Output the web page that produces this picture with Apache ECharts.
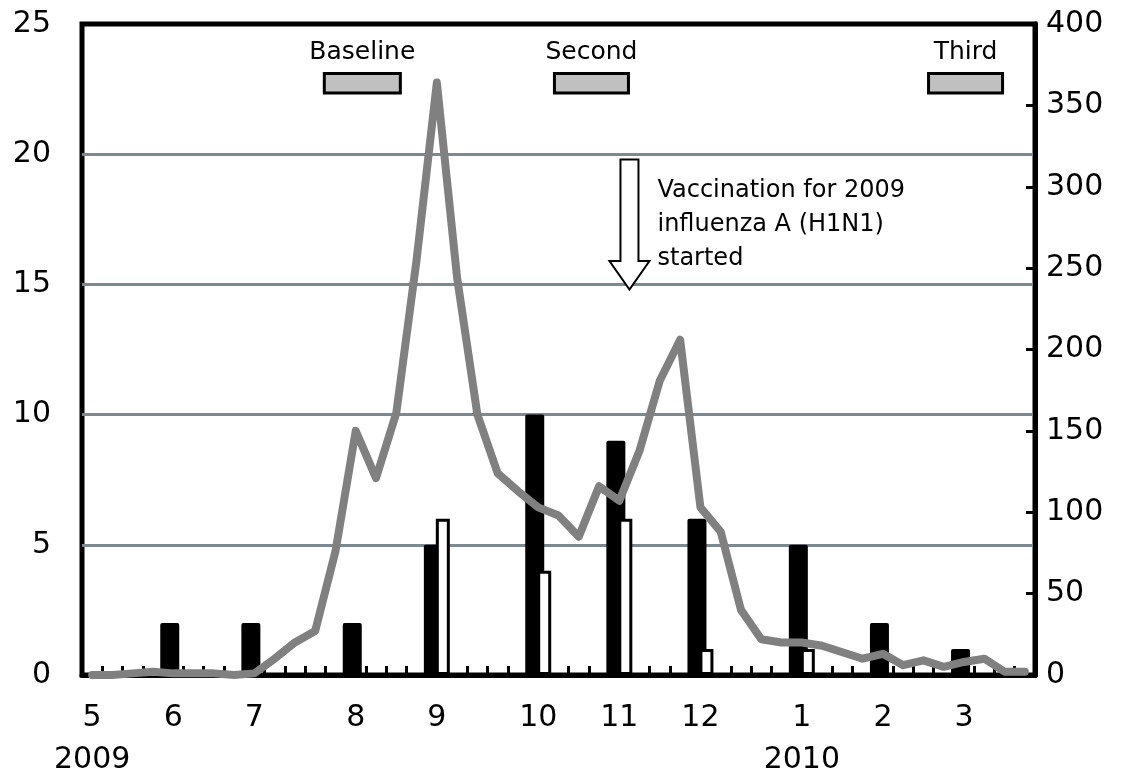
<!DOCTYPE html>
<html>
<head>
<meta charset="utf-8">
<script src="https://cdn.jsdelivr.net/npm/echarts@6/dist/echarts.min.js"></script>
<style>
html, body { margin: 0; padding: 0; background: #fff; }
#chart { width: 1133px; height: 781px; }
</style>
</head>
<body>
<div id="chart"></div>
<script>
// one category per week, May 2009 - Mar 2010
const weeks = Array.from({ length: 47 }, (_, i) => 'W' + (i + 1));

// month tick labels and the week each one sits on
const monthNames = ['5\n2009', '6', '7', '8', '9', '10', '11', '12', '1\n2010', '2', '3'];
const monthWeek = [0, 4, 8, 13, 17, 22, 26, 30, 35, 39, 43];

// monthly bars (left axis), placed on the month's week
const barWeek = [4, 8, 13, 17, 22, 26, 30, 35, 39, 43];
const blackBars = [2, 2, 2, 5, 10, 9, 6, 5, 2, 1];
const whiteBars = [0, 0, 0, 6, 4, 6, 1, 1, 0, 0];

// weekly cases (right axis)
const weeklyCases = [
  0, 0, 1, 2, 1, 1, 1, 0, 1, 10,
  20, 27, 76, 150, 121, 161, 255, 364, 244, 160,
  124, 113, 103, 98, 85, 116, 107, 138, 181, 206,
  103, 88, 40, 22, 20, 20, 18, 14, 10, 13,
  6, 9, 5, 8, 10, 2, 2
];

// survey periods, in week boundaries
const periods = ['Baseline', 'Second', 'Third'];
const periodStart = [11.95, 23.3, 41.75];
const periodEnd = [15.7, 26.95, 45.4];
const vaccWeek = 27;

const leftTicks = [0, 25, 5];
const rightTicks = [0, 400, 50];

const font = 'DejaVu Sans';

const blackData = weeks.map(() => '-');
const whiteData = weeks.map(() => '-');
barWeek.forEach((w, i) => {
  blackData[w] = blackBars[i];
  if (whiteBars[i] > 0) whiteData[w] = whiteBars[i];
});
const labelOf = {};
monthWeek.forEach((w, i) => { labelOf[w] = monthNames[i]; });

const chart = echarts.init(document.getElementById('chart'));

const option = {
  animation: false,
  grid: {
    left: 82, right: 98, top: 24, bottom: 99,
    show: true,
    borderColor: '#000',
    borderWidth: 5
  },
  xAxis: {
    type: 'category',
    data: weeks,
    boundaryGap: true,
    axisLine: { show: true, lineStyle: { color: '#000', width: 5 } },
    axisTick: { show: true, inside: true, interval: 0, length: 9, lineStyle: { color: '#000', width: 3 } },
    axisLabel: {
      interval: 0,
      margin: 22,
      fontFamily: font,
      fontSize: 30,
      lineHeight: 42,
      color: '#000',
      formatter: (v, idx) => labelOf[idx] || ''
    },
    splitLine: { show: false }
  },
  yAxis: [
    {
      type: 'value',
      min: leftTicks[0], max: leftTicks[1], interval: leftTicks[2],
      axisLine: { show: false },
      axisTick: { show: false },
      axisLabel: { margin: 31, fontFamily: font, fontSize: 30, color: '#000' },
      splitLine: { show: true, showMinLine: false, showMaxLine: false, lineStyle: { color: '#7d8990', width: 3 } }
    },
    {
      type: 'value',
      min: rightTicks[0], max: rightTicks[1], interval: rightTicks[2],
      position: 'right',
      axisLine: { show: true, lineStyle: { color: '#000', width: 5 } },
      axisTick: { show: true, inside: true, length: 9, lineStyle: { color: '#000', width: 3 } },
      axisLabel: { margin: 11, fontFamily: font, fontSize: 30, color: '#000' },
      splitLine: { show: false }
    }
  ],
  series: [
    {
      name: 'black',
      type: 'bar',
      yAxisIndex: 0,
      data: blackData,
      barWidth: 19,
      barGap: '-37%',
      itemStyle: { color: '#000', borderRadius: [2, 2, 0, 0] },
      z: 2
    },
    {
      name: 'white',
      type: 'bar',
      yAxisIndex: 0,
      data: whiteData,
      barWidth: 14,
      barGap: '-37%',
      itemStyle: { color: '#fff', borderColor: '#000', borderWidth: 3 },
      z: 3
    },
    {
      name: 'cases',
      type: 'line',
      yAxisIndex: 1,
      data: weeklyCases,
      symbol: 'none',
      lineStyle: { color: '#808080', width: 8, cap: 'round', join: 'round' },
      z: 5
    }
  ]
};

chart.setOption(option);

// annotation positions from the axes
const c0 = chart.convertToPixel({ xAxisIndex: 0 }, weeks[0]);
const c1 = chart.convertToPixel({ xAxisIndex: 0 }, weeks[1]);
const xAt = (b) => c0 + (b - 0.5) * (c1 - c0);
const yAt = (v) => chart.convertToPixel({ yAxisIndex: 0 }, v);

const graphics = [];
periods.forEach((name, i) => {
  const x0 = xAt(periodStart[i]);
  const x1 = xAt(periodEnd[i]);
  const yTop = yAt(23.1);
  const yBot = yAt(22.35);
  graphics.push({
    type: 'rect',
    shape: { x: x0, y: yTop, width: x1 - x0, height: yBot - yTop },
    style: { fill: '#c0c0c0', stroke: '#000', lineWidth: 3 },
    z: 10
  });
  graphics.push({
    type: 'text',
    x: (x0 + x1) / 2,
    y: yAt(23.9),
    style: {
      text: name, fill: '#000', font: '25px "DejaVu Sans"',
      textAlign: 'center', textVerticalAlign: 'middle'
    },
    z: 10
  });
});

const xa = xAt(vaccWeek);
const yTop = yAt(19.8), yHead = yAt(15.9), yTip = yAt(14.8);
graphics.push({
  type: 'polygon',
  shape: {
    points: [
      [xa - 9, yTop], [xa + 9, yTop], [xa + 9, yHead], [xa + 20, yHead],
      [xa, yTip], [xa - 20, yHead], [xa - 9, yHead]
    ]
  },
  style: { fill: '#fff', stroke: '#000', lineWidth: 2 },
  z: 10
});
graphics.push({
  type: 'text',
  x: xa + 28,
  y: yAt(18.73) - 14,
  style: {
    text: 'Vaccination for 2009\ninfluenza A (H1N1)\nstarted',
    fill: '#000', font: '24px "DejaVu Sans"', lineHeight: 34,
    textAlign: 'left', textVerticalAlign: 'top'
  },
  z: 10
});

chart.setOption({ graphic: graphics });
</script>
</body>
</html>
